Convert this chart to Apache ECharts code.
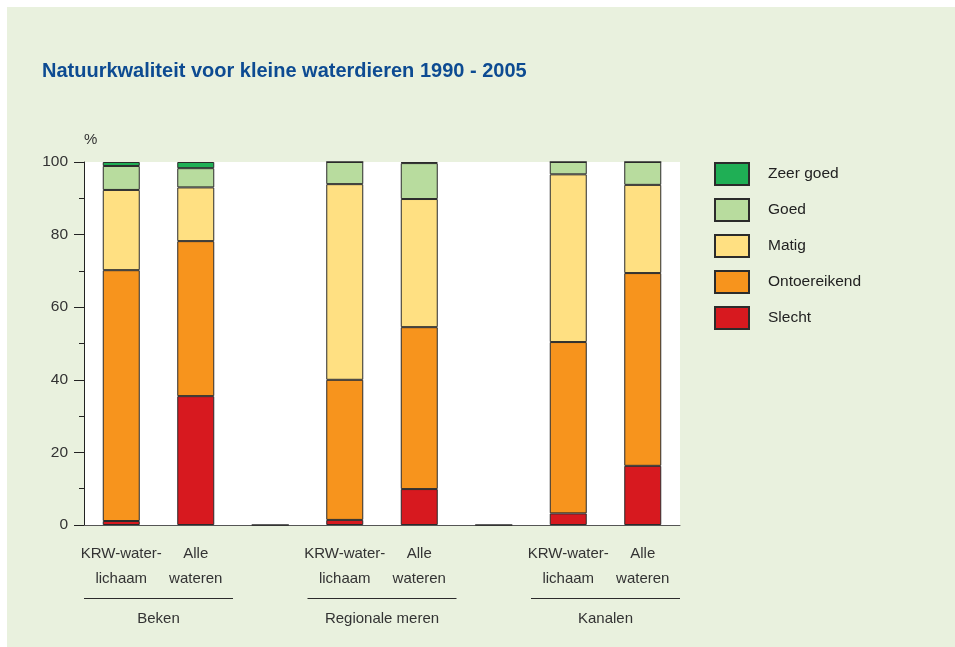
<!DOCTYPE html>
<html>
<head>
<meta charset="utf-8">
<script src="https://cdn.jsdelivr.net/npm/echarts@6/dist/echarts.min.js"></script>
<style>
  html, body { margin: 0; padding: 0; background: #fff; }
  #main { width: 955px; height: 647px; }
</style>
</head>
<body>
<div id="main"></div>
<script>
// categorieën (lege kolommen scheiden de groepen)
const categories = ['KRW-water-\nlichaam', 'Alle\nwateren', '', 'KRW-water-\nlichaam', 'Alle\nwateren', '', 'KRW-water-\nlichaam', 'Alle\nwateren']
const groups = ['', 'Beken', '', '', 'Regionale meren', '', '', 'Kanalen', '']
const yTicks = [0, 20, 40, 60, 80, 100]

// percentages per klasse
const slecht = [1.1, 35.5, 0, 1.4, 9.9, 0, 3.2, 16.3]
const ontoereikend = [69.1, 42.7, '-', 38.6, 44.6, '-', 47.2, 53.1]
const matig = [22.1, 14.8, '-', 53.9, 35.3, '-', 46.2, 24.3]
const goed = [6.6, 5.3, '-', 6.1, 9.9, '-', 3.4, 6.3]
const zeerGoed = [1.1, 1.7, '-', 0, 0.3, '-', 0, 0]

const chart = echarts.init(document.getElementById('main'))

const fontFamily = "'Liberation Sans', Arial, sans-serif"
const border = { borderColor: '#2b2b2b', borderWidth: 1 }

const makeSeries = (name, data, color) => ({
  name,
  type: 'bar',
  stack: 'totaal',
  barWidth: 37,
  data,
  itemStyle: Object.assign({ color }, border)
})

const option = {
  backgroundColor: '#ffffff',
  textStyle: { fontFamily },
  title: {
    text: 'Natuurkwaliteit voor kleine waterdieren 1990 - 2005',
    left: 37,
    top: 56,
    textStyle: {
      fontSize: 20,
      fontWeight: 'bold',
      color: '#0d4b92'
    }
  },
  legend: {
    orient: 'vertical',
    left: 709,
    top: 157,
    itemWidth: 34,
    itemHeight: 22,
    itemGap: 12,
    icon: 'rect',
    data: ['Zeer goed', 'Goed', 'Matig', 'Ontoereikend', 'Slecht'],
    textStyle: { fontSize: 15.5, color: '#222', padding: [0, 0, 0, 14] }
  },
  grid: {
    left: 84,
    top: 162,
    width: 596,
    height: 363
  },
  xAxis: [
    {
      type: 'category',
      data: categories,
      axisLine: { lineStyle: { color: '#555', width: 1 } },
      axisTick: { show: false },
      axisLabel: { fontSize: 15, color: '#333', margin: 16, lineHeight: 25, interval: 0 }
    },
    {
      type: 'category',
      position: 'bottom',
      offset: 82,
      boundaryGap: false,
      data: groups,
      axisLine: { show: false },
      axisTick: { show: false },
      axisLabel: { fontSize: 15, color: '#333', margin: 4, interval: 0 }
    }
  ],
  yAxis: {
    type: 'value',
    min: yTicks[0],
    max: yTicks[yTicks.length - 1],
    interval: 20,
    name: '%',
    nameLocation: 'end',
    nameGap: 22,
    nameTextStyle: { fontSize: 15, color: '#333', align: 'left', verticalAlign: 'middle' },
    axisLine: { show: true, lineStyle: { color: '#222', width: 1 } },
    axisTick: { show: true, inside: false, length: 10, lineStyle: { color: '#222' } },
    minorTick: { show: true, splitNumber: 2, length: 5, lineStyle: { color: '#222' } },
    splitLine: { show: false },
    axisLabel: { fontSize: 15.5, color: '#333', margin: 16 }
  },
  series: [
    makeSeries('Slecht', slecht, '#d7191f'),
    makeSeries('Ontoereikend', ontoereikend, '#f7941d'),
    makeSeries('Matig', matig, '#ffe082'),
    makeSeries('Goed', goed, '#b8dc9e'),
    makeSeries('Zeer goed', zeerGoed, '#1faf55')
  ]
}

chart.setOption(option)

// achtergrondvlakken en groepslijnen, posities via de assen van de grafiek
const p0 = chart.convertToPixel({ xAxisIndex: 0 }, 0)
const p1 = chart.convertToPixel({ xAxisIndex: 0 }, 1)
const band = p1 - p0
const yTop = chart.convertToPixel({ yAxisIndex: 0 }, 100)
const yBottom = chart.convertToPixel({ yAxisIndex: 0 }, 0)
const groupLines = [[0, 1], [3, 4], [6, 7]].map(([a, b]) => {
  const x1 = chart.convertToPixel({ xAxisIndex: 0 }, a) - band / 2
  const x2 = chart.convertToPixel({ xAxisIndex: 0 }, b) + band / 2
  return {
    type: 'line',
    shape: { x1, y1: 598.5, x2, y2: 598.5 },
    style: { stroke: '#2b2b2b', lineWidth: 1 },
    z: 10
  }
})

chart.setOption({
  graphic: [
    {
      type: 'rect',
      shape: { x: 7, y: 7, width: 948, height: 640 },
      style: { fill: '#e9f1de' },
      z: -20
    },
    {
      type: 'rect',
      shape: { x: p0 - band / 2, y: yTop, width: band * 8, height: yBottom - yTop },
      style: { fill: '#ffffff' },
      z: -10
    }
  ].concat(groupLines)
})
</script>
</body>
</html>
